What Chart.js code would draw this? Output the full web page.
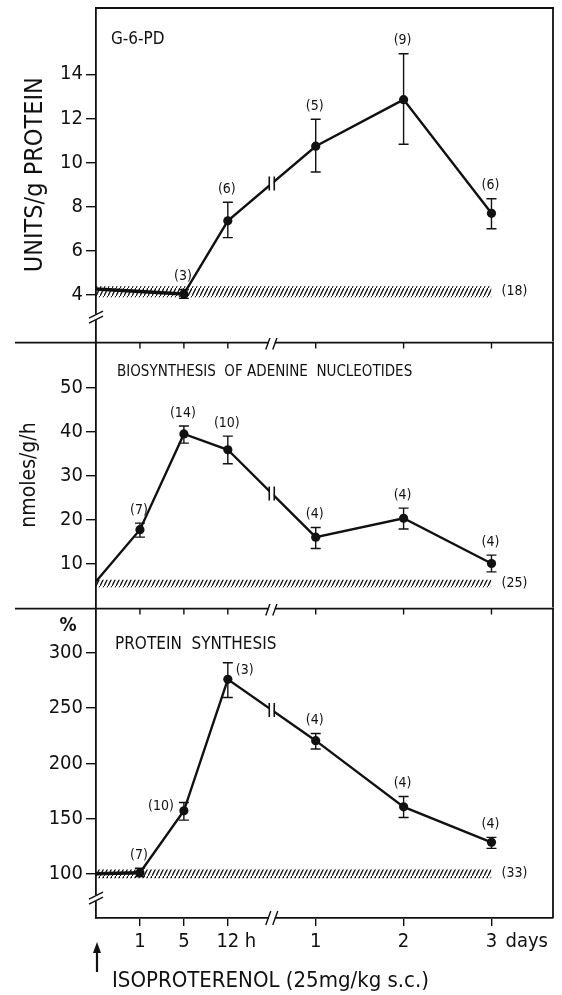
<!DOCTYPE html>
<html>
<head>
<meta charset="utf-8">
<script src="https://cdn.jsdelivr.net/npm/chart.js@4.4.1/dist/chart.umd.min.js"></script>
<style>
  body { margin: 0; background: #fff; }
  #wrap { position: relative; width: 562px; height: 995px; }
  #wrap canvas { position: absolute; left: 0; }
</style>
</head>
<body>
<div id="wrap">
  <canvas id="c-g6pd" width="562" height="346" style="top:0"></canvas>
  <canvas id="c-aden" width="562" height="274" style="top:338px"></canvas>
  <canvas id="c-prot" width="562" height="391" style="top:604px"></canvas>
</div>
<script>
// ── Data ────────────────────────────────────────────────────────
// time axis as position index: 0 = injection, 4 = axis break
const xTickPos    = [1, 2, 3, 5, 7, 9];
const xTickLabels = ['1', '5', '12', '1', '2', '3'];

// G-6-PD (units/g protein)
const g6pdX    = [0, 2, 3, 5, 7, 9];
const g6pdMean = [4.27, 4.05, 7.36, 10.74, 12.85, 7.7];
const g6pdLow  = [null, 3.85, 6.6, 9.57, 10.83, 7.0];
const g6pdHigh = [null, 4.25, 8.2, 11.96, 14.93, 8.36];
const g6pdN    = ['', '(3)', '(6)', '(5)', '(9)', '(6)'];
const g6pdCtrl = [3.9, 4.4];
const g6pdCtrlN = '(18)';
const g6pdTicks = [4, 6, 8, 10, 12, 14];

// biosynthesis of adenine nucleotides (nmoles/g/h)
const adenX    = [0, 1, 2, 3, 5, 7, 9];
const adenMean = [5.9, 17.7, 39.5, 35.9, 16.0, 20.3, 10.0];
const adenLow  = [null, 16.0, 37.4, 32.7, 13.4, 17.85, 8.1];
const adenHigh = [null, 19.2, 41.3, 39.0, 18.2, 22.6, 11.9];
const adenN    = ['', '(7)', '(14)', '(10)', '(4)', '(4)', '(4)'];
const adenCtrl = [4.6, 6.3];
const adenCtrlN = '(25)';
const adenTicks = [10, 20, 30, 40, 50];

// protein synthesis (%)
const protX    = [0, 1, 2, 3, 5, 7, 9];
const protMean = [100, 101, 157, 276, 220.5, 160.6, 128.5];
const protLow  = [null, 97.6, 148.6, 259.5, 213, 151, 123];
const protHigh = [null, 105, 164.5, 291, 227, 170, 133];
const protN    = ['', '(7)', '(10)', '(3)', '(4)', '(4)', '(4)'];
const protCtrl = [96, 104];
const protCtrlN = '(33)';
const protTicks = [100, 150, 200, 250, 300];

// ── Style ───────────────────────────────────────────────────────
const FONT = "'DejaVu Sans Condensed', 'DejaVu Sans', sans-serif";
const INK  = '#111';

function makeHatch() {
    const c = document.createElement('canvas');
    c.width = 4; c.height = 8;
    const g = c.getContext('2d');
    g.strokeStyle = INK;
    g.lineWidth = 1.3;
    g.beginPath();
    g.moveTo(-1, 10); g.lineTo(5, -2);
    g.stroke();
    return g.createPattern(c, 'repeat');
}
const hatch = makeHatch();

// two slanted strokes over a white gap (axis break)
function slashes(ctx, cx, cy, vertical) {
    ctx.save();
    ctx.fillStyle = '#fff';
    if (vertical) ctx.fillRect(cx - 4, cy - 3, 8, 6);
    else          ctx.fillRect(cx - 3, cy - 4, 6, 8);
    ctx.strokeStyle = INK;
    ctx.lineWidth = 1.4;
    ctx.beginPath();
    if (vertical) {
        ctx.moveTo(cx - 7, cy + 6); ctx.lineTo(cx + 7, cy - 1);
        ctx.moveTo(cx - 7, cy + 1); ctx.lineTo(cx + 7, cy - 6);
    } else {
        ctx.moveTo(cx - 6, cy + 7); ctx.lineTo(cx - 1, cy - 7);
        ctx.moveTo(cx + 1, cy + 7); ctx.lineTo(cx + 6, cy - 7);
    }
    ctx.stroke();
    ctx.restore();
}

// ── Plugin: frame, error bars, counts, breaks, texts ────────────
const decor = {
    id: 'decor',
    afterDatasetsDraw(chart, args, o) {
        const { ctx, chartArea: a, scales: { x, y } } = chart;
        ctx.save();
        ctx.strokeStyle = INK;
        ctx.fillStyle = INK;
        ctx.lineWidth = 1.8;

        // frame: top line and right edge
        ctx.beginPath();
        ctx.moveTo(o.topFrom, a.top); ctx.lineTo(a.right + 1, a.top);
        ctx.moveTo(a.right, a.top);   ctx.lineTo(a.right, a.bottom);
        ctx.stroke();

        // ticks hanging from the divider
        if (o.topTicks) {
            ctx.lineWidth = 1.4;
            ctx.beginPath();
            xTickPos.forEach(v => {
                const px = x.getPixelForValue(v);
                ctx.moveTo(px, a.top); ctx.lineTo(px, a.top + 6);
            });
            ctx.stroke();
            slashes(ctx, x.getPixelForValue(4), a.top, false);
        }
        if (o.bottomBreak) slashes(ctx, x.getPixelForValue(4), a.bottom, false);
        if (o.yBreak != null) slashes(ctx, a.left, y.getPixelForValue(o.yBreak), true);

        const xs = o.xs;
        const meta = chart.getDatasetMeta(2);

        // break mark "||" on the data line
        const i3 = xs.indexOf(3), i5 = xs.indexOf(5);
        const p3 = meta.data[i3], p5 = meta.data[i5];
        const bx = x.getPixelForValue(4);
        const by = p3.y + (p5.y - p3.y) * (bx - p3.x) / (p5.x - p3.x);
        ctx.fillStyle = '#fff';
        ctx.fillRect(bx - 2, by - 5, 4, 10);
        ctx.lineWidth = 1.6;
        ctx.beginPath();
        ctx.moveTo(bx - 2.5, by - 7); ctx.lineTo(bx - 2.5, by + 7);
        ctx.moveTo(bx + 2.5, by - 7); ctx.lineTo(bx + 2.5, by + 7);
        ctx.stroke();
        ctx.fillStyle = INK;

        // error bars
        ctx.lineWidth = 1.4;
        xs.forEach((v, i) => {
            if (o.low[i] == null) return;
            const px = x.getPixelForValue(v);
            const yl = y.getPixelForValue(o.low[i]);
            const yh = y.getPixelForValue(o.high[i]);
            ctx.beginPath();
            ctx.moveTo(px, yl); ctx.lineTo(px, yh);
            ctx.moveTo(px - 5, yl); ctx.lineTo(px + 5, yl);
            ctx.moveTo(px - 5, yh); ctx.lineTo(px + 5, yh);
            ctx.stroke();
        });

        // counts
        ctx.font = `14px ${FONT}`;
        ctx.textBaseline = 'middle';
        xs.forEach((v, i) => {
            if (!o.counts[i]) return;
            const px = x.getPixelForValue(v);
            const py = y.getPixelForValue(o.mean[i]);
            const yh = y.getPixelForValue(o.high[i]);
            const where = (o.countAt && o.countAt[i]) || 'top';
            if (where === 'left') {
                ctx.textAlign = 'right';
                ctx.fillText(o.counts[i], px - 10, py - 4);
            } else if (where === 'right') {
                ctx.textAlign = 'left';
                ctx.fillText(o.counts[i], px + 8, yh + 8);
            } else {
                ctx.textAlign = 'center';
                ctx.fillText(o.counts[i], px - 1, yh - 13);
            }
        });

        // control count right of the band
        ctx.textAlign = 'left';
        ctx.fillText(o.ctrlN, x.getPixelForValue(9) + 10,
                     y.getPixelForValue((o.ctrl[0] + o.ctrl[1]) / 2));

        // panel title
        ctx.font = o.titleFont;
        ctx.fillText(o.title, o.titleX, o.titleY);

        if (o.extra) o.extra(ctx, chart);
        ctx.restore();
    }
};

// label overhang must not shrink the plot area
function noPad(sc) {
    sc.paddingTop = 0; sc.paddingBottom = 0;
    sc.paddingLeft = 0; sc.paddingRight = 0;
}

function xScale(shown) {
    const s = { type: 'linear', min: 0, max: 10.4, display: shown };
    if (!shown) return s;
    return Object.assign(s, {
        afterBuildTicks: sc => { sc.ticks = xTickPos.map(v => ({ value: v })); },
        afterFit: sc => { sc.height = 77; noPad(sc); },
        ticks: {
            color: INK, font: { family: FONT, size: 20 }, padding: 4,
            maxRotation: 0, autoSkip: false,
            callback: (v, i) => xTickLabels[i]
        },
        grid: { drawOnChartArea: false, tickLength: 8, color: INK, lineWidth: 1.4 },
        border: { color: INK, width: 1.8 }
    });
}

function yScale(min, max, ticks, title) {
    return {
        min, max,
        afterBuildTicks: sc => { sc.ticks = ticks.map(v => ({ value: v })); },
        afterFit: sc => { sc.width = 96; noPad(sc); },
        ticks: { color: INK, font: { family: FONT, size: 20 }, padding: 3 },
        grid: { drawOnChartArea: false, tickLength: 10, color: INK, lineWidth: 1.4 },
        border: { color: INK, width: 1.8 },
        title: title || { display: false }
    };
}

function panel(id, cfg) {
    const pts = cfg.xs.map((v, i) => ({ x: v, y: cfg.mean[i] }));
    return new Chart(document.getElementById(id), {
        type: 'line',
        data: {
            datasets: [
                {   // control band upper edge, filled down to the lower edge
                    data: [{ x: 0, y: cfg.ctrl[1] }, { x: 9, y: cfg.ctrl[1] }],
                    borderWidth: 0, pointRadius: 0,
                    fill: '+1', backgroundColor: hatch
                },
                {
                    data: [{ x: 0, y: cfg.ctrl[0] }, { x: 9, y: cfg.ctrl[0] }],
                    borderWidth: 0, pointRadius: 0, fill: false
                },
                {
                    data: pts,
                    borderColor: INK,
                    borderWidth: 2.4,
                    segment: { borderWidth: c => c.p0DataIndex === 0 ? cfg.leadWidth : 2.4 },
                    pointRadius: c => c.dataIndex === 0 ? 0 : 4.6,
                    pointBackgroundColor: INK,
                    pointBorderWidth: 0,
                    fill: false,
                    clip: false
                }
            ]
        },
        options: {
            responsive: false,
            animation: false,
            layout: { padding: cfg.padding },
            plugins: {
                legend: { display: false },
                tooltip: { enabled: false },
                decor: Object.assign({
                    xs: cfg.xs, mean: cfg.mean, low: cfg.low, high: cfg.high,
                    counts: cfg.counts, countAt: cfg.countAt,
                    ctrl: cfg.ctrl, ctrlN: cfg.ctrlN
                }, cfg.decor)
            },
            scales: {
                x: xScale(cfg.showX),
                y: yScale(cfg.yMin, cfg.yMax, cfg.ticks, cfg.yTitle)
            }
        },
        plugins: [decor]
    });
}

// ── Panel 1: G-6-PD ─────────────────────────────────────────────
panel('c-g6pd', {
    xs: g6pdX, mean: g6pdMean, low: g6pdLow, high: g6pdHigh,
    counts: g6pdN, ctrl: g6pdCtrl, ctrlN: g6pdCtrlN, ticks: g6pdTicks,
    yMin: 1.9, yMax: 17.0, leadWidth: 3.6, showX: false,
    padding: { left: 0, right: 9, top: 8, bottom: 4 },
    yTitle: {
        display: true, text: 'UNITS/g PROTEIN', color: INK,
        font: { family: FONT, size: 25 }, padding: { top: 20 }
    },
    decor: {
        topFrom: 96, yBreak: 3.0,
        title: 'G-6-PD', titleFont: `17px ${FONT}`, titleX: 111, titleY: 40
    }
});

// ── Panel 2: adenine nucleotides ────────────────────────────────
panel('c-aden', {
    xs: adenX, mean: adenMean, low: adenLow, high: adenHigh,
    counts: adenN, ctrl: adenCtrl, ctrlN: adenCtrlN, ticks: adenTicks,
    yMin: 0, yMax: 60.3, leadWidth: 2.4, showX: false,
    padding: { left: 0, right: 9, top: 4, bottom: 4 },
    yTitle: {
        display: true, text: 'nmoles/g/h', color: INK,
        font: { family: FONT, size: 21 }, padding: { top: 17 }
    },
    decor: {
        topFrom: 15, topTicks: true,
        title: 'BIOSYNTHESIS  OF ADENINE  NUCLEOTIDES', titleFont: `15px ${FONT}`,
        titleX: 117, titleY: 34
    }
});

// ── Panel 3: protein synthesis ──────────────────────────────────
panel('c-prot', {
    xs: protX, mean: protMean, low: protLow, high: protHigh,
    counts: protN, countAt: ['', 'top', 'left', 'right', 'top', 'top', 'top'],
    ctrl: protCtrl, ctrlN: protCtrlN, ticks: protTicks,
    yMin: 60, yMax: 340, leadWidth: 3.6, showX: true,
    padding: { left: 0, right: 9, top: 4, bottom: 0 },
    decor: {
        topFrom: 15, topTicks: true, bottomBreak: true, yBreak: 78,
        title: 'PROTEIN  SYNTHESIS', titleFont: `17px ${FONT}`, titleX: 115, titleY: 41,
        extra(ctx, chart) {
            const x = chart.scales.x;
            const ly = chart.chartArea.bottom + 24;
            ctx.font = `20px ${FONT}`;
            ctx.textAlign = 'left';
            ctx.textBaseline = 'middle';
            ctx.fillText('h', x.getPixelForValue(3) + 17, ly);
            ctx.fillText('days', x.getPixelForValue(9) + 14, ly);
            // y unit
            ctx.font = `bold 19px ${FONT}`;
            ctx.textAlign = 'center';
            ctx.fillText('%', 68, 22);
            // injection arrow and label
            ctx.lineWidth = 2.2;
            ctx.beginPath();
            ctx.moveTo(97, 368); ctx.lineTo(97, 345);
            ctx.stroke();
            ctx.beginPath();
            ctx.moveTo(97, 338); ctx.lineTo(93, 349); ctx.lineTo(101, 349);
            ctx.closePath(); ctx.fill();
            ctx.font = `22px ${FONT}`;
            ctx.textAlign = 'left';
            ctx.fillText('ISOPROTERENOL (25mg/kg s.c.)', 112, 377);
        }
    }
});
</script>
</body>
</html>
